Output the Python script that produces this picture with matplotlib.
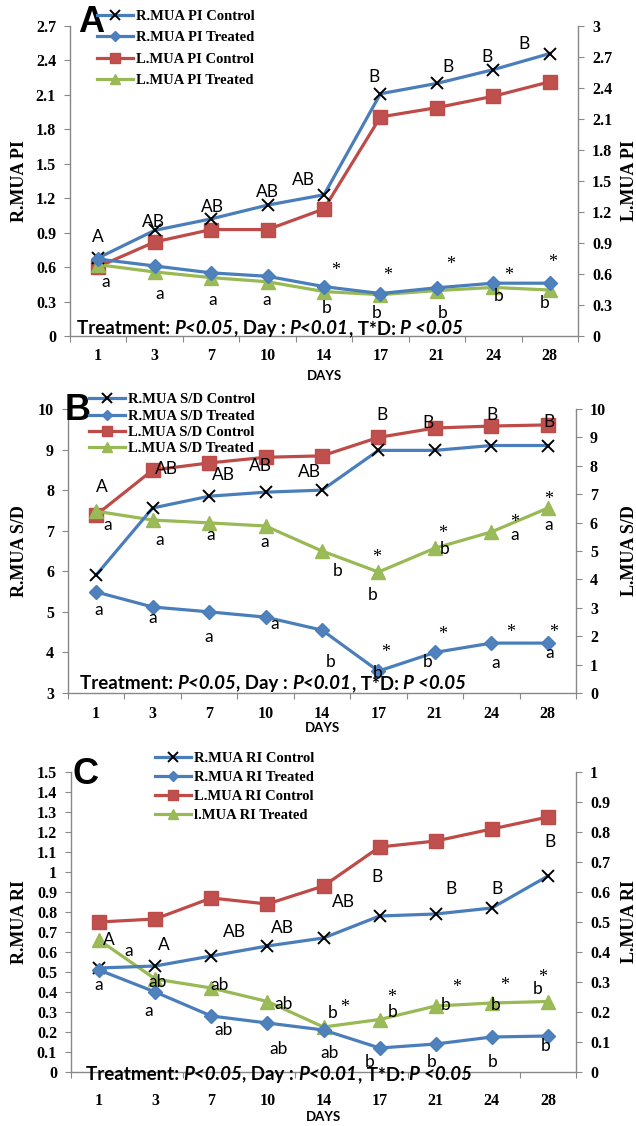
import numpy as np
import matplotlib
matplotlib.use("Agg")
import matplotlib.pyplot as plt
from matplotlib.font_manager import FontProperties

W, H = 636, 1126

days = ["1", "3", "7", "10", "14", "17", "21", "24", "28"]

# A: pulsatility index (R on left axis, L on right axis)
r_pi_control = [0.68, 0.92, 1.02, 1.14, 1.23, 2.11, 2.20, 2.32, 2.46]
r_pi_treated = [0.67, 0.61, 0.55, 0.52, 0.43, 0.37, 0.42, 0.46, 0.46]
l_pi_control = [0.67, 0.91, 1.03, 1.03, 1.23, 2.12, 2.21, 2.32, 2.46]
l_pi_treated = [0.69, 0.62, 0.565, 0.525, 0.43, 0.40, 0.44, 0.47, 0.445]

# B: S/D ratio
r_sd_control = [5.91, 7.56, 7.85, 7.95, 8.0, 8.98, 8.98, 9.1, 9.1]
r_sd_treated = [5.49, 5.12, 5.0, 4.87, 4.55, 3.54, 4.0, 4.23, 4.23]
l_sd_control = [6.27, 7.85, 8.1, 8.3, 8.35, 9.0, 9.33, 9.4, 9.44]
l_sd_treated = [6.4, 6.09, 5.99, 5.88, 5.0, 4.26, 5.1, 5.67, 6.51]

# C: resistance index
r_ri_control = [0.52, 0.53, 0.58, 0.63, 0.67, 0.78, 0.79, 0.82, 0.98]
r_ri_treated = [0.51, 0.40, 0.28, 0.245, 0.21, 0.12, 0.14, 0.175, 0.18]
l_ri_control = [0.50, 0.51, 0.58, 0.56, 0.62, 0.75, 0.77, 0.81, 0.85]
l_ri_treated = [0.44, 0.31, 0.28, 0.235, 0.15, 0.175, 0.22, 0.23, 0.235]

legend_a = ["R.MUA PI Control", "R.MUA PI Treated", "L.MUA PI Control", "L.MUA PI Treated"]
legend_b = ["R.MUA S/D Control", "R.MUA S/D Treated", "L.MUA S/D Control", "L.MUA S/D Treated"]
legend_c = ["R.MUA RI Control", "R.MUA RI Treated", "L.MUA RI Control", "l.MUA RI Treated"]

# significance letters: (category position, left-axis value, text)
letters_a = [(0.0, 0.86, "A"), (0.98, 0.99, "AB"), (2.02, 1.12, "AB"), (3.0, 1.25, "AB"),
             (3.63, 1.36, "AB"), (4.88, 2.26, "B"), (6.2, 2.34, "B"), (6.89, 2.43, "B"),
             (7.54, 2.54, "B"),
             (0.14, 0.47, "a"), (1.09, 0.37, "a"), (2.02, 0.31, "a"), (2.98, 0.31, "a"),
             (4.05, 0.24, "b"), (4.93, 0.20, "b"), (6.1, 0.20, "b"), (7.1, 0.35, "b"),
             (7.9, 0.29, "b")]
stars_a = [(4.21, 0.57), (5.13, 0.53), (6.25, 0.62), (7.27, 0.53), (8.05, 0.64)]

letters_b = [(0.1, 8.07, "A"), (1.24, 8.52, "AB"), (2.26, 8.37, "AB"), (2.91, 8.59, "AB"),
             (3.77, 8.44, "AB"), (5.06, 9.85, "B"), (5.88, 9.65, "B"), (7.02, 9.85, "B"),
             (8.03, 9.68, "B"),
             (0.21, 7.14, "a"), (1.12, 6.77, "a"), (2.02, 6.89, "a"), (2.98, 6.72, "a"),
             (4.28, 6.0, "b"), (4.9, 5.41, "b"), (6.18, 6.55, "b"), (7.42, 6.89, "a"),
             (8.01, 7.14, "a"),
             (0.04, 5.04, "a"), (1.0, 4.85, "a"), (2.0, 4.38, "a"), (3.16, 4.70, "a"),
             (4.16, 3.76, "b"), (4.99, 3.49, "b"), (5.88, 3.76, "b"), (7.07, 3.74, "a"),
             (8.03, 3.99, "a")]
stars_b = [(4.97, 6.35), (6.13, 6.93), (7.42, 7.21), (8.01, 7.78),
           (5.13, 3.99), (6.13, 4.43), (7.34, 4.48), (8.1, 4.5)]

letters_c = [(0.18, 0.66, "A"), (0.53, 0.605, "a"), (1.15, 0.635, "A"), (2.41, 0.70, "AB"),
             (3.26, 0.72, "AB"), (4.36, 0.85, "AB"), (4.96, 0.975, "B"), (6.28, 0.915, "B"),
             (7.09, 0.915, "B"), (8.03, 1.15, "B"),
             (0.0, 0.435, "a"), (1.05, 0.45, "ab"), (0.89, 0.305, "a"), (2.15, 0.435, "ab"),
             (2.22, 0.21, "ab"), (3.28, 0.34, "ab"), (3.2, 0.115, "ab"), (4.17, 0.295, "b"),
             (4.11, 0.095, "ab"), (5.23, 0.30, "b"), (4.82, 0.05, "b"), (6.17, 0.335, "b"),
             (5.92, 0.05, "b"), (7.06, 0.335, "b"), (7.02, 0.05, "b"), (7.82, 0.415, "b"),
             (7.96, 0.13, "b")]
stars_c = [(4.38, 0.32), (5.21, 0.375), (6.37, 0.42), (7.22, 0.435), (7.91, 0.475)]

stat_parts = [("Treatment: ", "normal"), ("P<0.05", "italic"), (", Day : ", "normal"),
              ("P<0.01", "italic"), (", T*D: ", "normal"), ("P <0.05", "italic")]

BLUE = "#4A7EBB"
RED = "#BE4B48"
GREEN = "#98B954"
GRAY = "#888888"

plt.rcParams["font.family"] = "Liberation Serif"
plt.rcParams["font.weight"] = "bold"

fig = plt.figure(figsize=(W / 100, H / 100), dpi=100)


def fx(x):
    return x / W


def fy(y):
    return 1 - y / H


def panel(box, series, names, left_ticks, right_ticks, ylabels, ylab_y, letter, letter_xy,
          leg_xy, leg_space, letters, stars, stat_xy, days_y, tick_pad):
    x0, y0, x1, y1 = box
    ax = fig.add_axes([fx(x0), fy(y1), (x1 - x0) / W, (y1 - y0) / H])
    ax2 = ax.twinx()
    x = np.arange(len(days))
    rc, rt, lc, lt = series
    h1, = ax.plot(x, rc, color=BLUE, lw=2.3, marker="x", ms=9, mec="black", mew=1.4)
    h2, = ax.plot(x, rt, color=BLUE, lw=2.3, marker="D", ms=7, mfc="#4F81BD", mec=BLUE)
    h3, = ax2.plot(x, lc, color=RED, lw=2.3, marker="s", ms=9.5, mfc="#C0504D", mec=RED)
    h4, = ax2.plot(x, lt, color=GREEN, lw=2.3, marker="^", ms=10, mfc="#9BBB59", mec=GREEN)

    ax.set_xlim(-0.5, len(days) - 0.5)
    ax.set_ylim(left_ticks[0], left_ticks[-1])
    ax2.set_ylim(right_ticks[0], right_ticks[-1])
    ax.set_yticks(left_ticks)
    ax.set_yticklabels([f"{round(v, 2):g}" for v in left_ticks])
    ax2.set_yticks(right_ticks)
    ax2.set_yticklabels([f"{round(v, 2):g}" for v in right_ticks])
    ax.set_xticks(np.arange(-0.5, len(days)), [""] * (len(days) + 1))
    ax.set_xticks(x, days, minor=True)

    for a in (ax, ax2):
        for s in a.spines.values():
            s.set_color(GRAY)
            s.set_linewidth(1)
        a.spines["top"].set_visible(False)
    ax.spines["right"].set_visible(False)
    ax2.spines["left"].set_visible(False)
    ax2.spines["bottom"].set_visible(False)

    ax.tick_params(axis="y", length=4, color=GRAY, labelsize=11.5, pad=6)
    ax2.tick_params(axis="y", length=4, color=GRAY, labelsize=11.5, pad=6)
    ax.tick_params(axis="x", which="major", length=4, color=GRAY)
    ax.tick_params(axis="x", which="minor", length=0, labelsize=11.5, pad=tick_pad)

    fig.text(fx(20), fy(ylab_y), ylabels[0], rotation=90, ha="center", va="center", fontsize=13)
    fig.text(fx(629), fy(ylab_y), ylabels[1], rotation=90, ha="center", va="center", fontsize=13)
    fig.text(fx((x0 + x1) / 2), fy(days_y), "DAYS", ha="center", va="center",
             family="Lato", weight="bold", fontsize=9.5)
    fig.text(fx(letter_xy[0]), fy(letter_xy[1]), letter, ha="center", va="center",
             family="Liberation Sans", weight="bold", fontsize=26)

    fig.legend([h1, h2, h3, h4], names, loc="upper left",
               bbox_to_anchor=(fx(leg_xy[0]), fy(leg_xy[1])), frameon=False,
               prop=FontProperties(family="Liberation Serif", weight="bold", size=10.5),
               handlelength=2.5, handletextpad=0.15, borderpad=0, borderaxespad=0,
               labelspacing=leg_space, markerscale=0.75)

    for xi, yv, s in letters:
        ax.text(xi, yv, s, ha="center", va="center", family="Lato", weight="normal",
                fontsize=12.5, zorder=5)
    for xi, yv in stars:
        ax.text(xi, yv, "*", ha="center", va="center", family="Liberation Serif",
                weight="normal", fontsize=13, zorder=5)

    prev = None
    for s, style in stat_parts:
        kw = dict(family="Lato", weight="bold", style=style, fontsize=13.5,
                  ha="left", va="bottom", annotation_clip=False, zorder=6)
        if prev is None:
            prev = ax.annotate(s, xy=(stat_xy[0], H - stat_xy[1]), xycoords="figure pixels", **kw)
        else:
            prev = ax.annotate(s, xy=(1, 0), xycoords=prev, **kw)
    ax2.set_zorder(1)
    ax.set_zorder(2)
    ax.patch.set_visible(False)
    return ax, ax2


panel((70, 26, 578, 336), (r_pi_control, r_pi_treated, l_pi_control, l_pi_treated), legend_a,
      np.arange(0, 2.71, 0.3), np.arange(0, 3.01, 0.3), ("R.MUA PI", "L.MUA PI"), 181,
      "A", (91, 22), (97, 10), 0.55, letters_a, stars_a, (77, 337), 376, 9)

panel((68, 409, 576, 693), (r_sd_control, r_sd_treated, l_sd_control, l_sd_treated), legend_b,
      np.arange(3, 10.1, 1), np.arange(0, 10.1, 1), ("R.MUA S/D", "L.MUA S/D"), 551,
      "B", (78, 410), (89, 393), 0.22, letters_b, stars_b, (80, 692), 728, 9)

panel((71, 772, 576, 1072), (r_ri_control, r_ri_treated, l_ri_control, l_ri_treated), legend_c,
      np.arange(0, 1.51, 0.1), np.arange(0, 1.01, 0.1), ("R.MUA RI", "L.MUA RI"), 922,
      "C", (86, 775), (155, 752), 0.4, letters_c, stars_c, (86, 1083), 1117, 15)

fig.savefig("out.png", dpi=100)
